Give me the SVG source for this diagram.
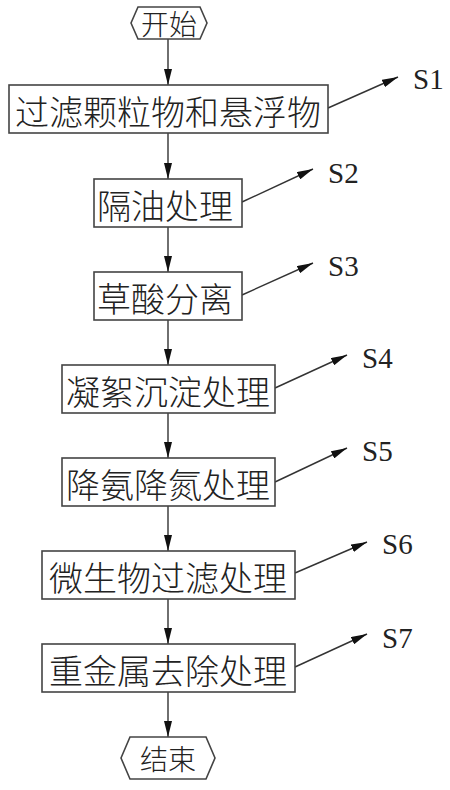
<svg xmlns="http://www.w3.org/2000/svg" width="450" height="790" viewBox="0 0 450 790">
<style>
.box{fill:#fff;stroke:#444;stroke-width:1.6}
.t{font-family:"Noto Sans CJK SC","Noto Sans CJK JP",sans-serif;font-size:34px;font-weight:300;fill:#222;text-anchor:middle;dominant-baseline:central}
.th{font-family:"Noto Sans CJK SC","Noto Sans CJK JP",sans-serif;font-size:28px;font-weight:300;fill:#222;text-anchor:middle;dominant-baseline:central}
.s{font-family:"Liberation Serif",serif;font-size:29px;fill:#222}
.c line{stroke:#333;stroke-width:1.4;marker-end:url(#ah)}
</style>
<defs>
<marker id="ah" markerUnits="userSpaceOnUse" markerWidth="17" markerHeight="8" refX="16" refY="4" orient="auto">
<path d="M0,0 L16,4 L0,8 Z" fill="#111"/>
</marker>
</defs>
<rect width="450" height="790" fill="#fff"/>
<g class="c" id="connectors">
<line x1="168" y1="39" x2="168" y2="85"/>
<line x1="168" y1="133" x2="168" y2="179"/>
<line x1="168" y1="227" x2="168" y2="272"/>
<line x1="168" y1="320" x2="168" y2="365"/>
<line x1="168" y1="413" x2="168" y2="458"/>
<line x1="168" y1="506" x2="168" y2="551"/>
<line x1="168" y1="599" x2="168" y2="644"/>
<line x1="168" y1="692" x2="168" y2="737"/>
<line x1="328" y1="108" x2="398" y2="77"/>
<line x1="242" y1="202" x2="313" y2="169"/>
<line x1="242" y1="295" x2="313" y2="263"/>
<line x1="275" y1="388" x2="347" y2="355"/>
<line x1="275" y1="482" x2="347" y2="448"/>
<line x1="295" y1="573" x2="367" y2="542"/>
<line x1="295" y1="667" x2="367" y2="634"/>
</g>
<g id="start">
<polygon class="box" points="131,23 138,7 200,7 207,23 200,39 138,39"/>
<text class="th" x="169" y="23">开始</text>
</g>
<g id="n1">
<rect class="box" x="9" y="85" width="319" height="48"/>
<text class="t" x="168" y="110">过滤颗粒物和悬浮物</text>
</g>
<g id="n2">
<rect class="box" x="94" y="179" width="148" height="48"/>
<text class="t" x="165" y="204">隔油处理</text>
</g>
<g id="n3">
<rect class="box" x="94" y="272" width="148" height="48"/>
<text class="t" x="165" y="297">草酸分离</text>
</g>
<g id="n4">
<rect class="box" x="62" y="365" width="213" height="48"/>
<text class="t" x="168" y="390">凝絮沉淀处理</text>
</g>
<g id="n5">
<rect class="box" x="62" y="458" width="213" height="48"/>
<text class="t" x="168" y="483">降氨降氮处理</text>
</g>
<g id="n6">
<rect class="box" x="42" y="551" width="253" height="48"/>
<text class="t" x="168" y="576">微生物过滤处理</text>
</g>
<g id="n7">
<rect class="box" x="42" y="644" width="253" height="48"/>
<text class="t" x="168" y="669">重金属去除处理</text>
</g>
<g id="end">
<polygon class="box" points="121,758 130,737 206,737 215,758 206,779 130,779"/>
<text class="th" x="168" y="758">结束</text>
</g>
<g id="labels">
<text class="s" x="413" y="89">S1</text>
<text class="s" x="328" y="183">S2</text>
<text class="s" x="328" y="276">S3</text>
<text class="s" x="362" y="368">S4</text>
<text class="s" x="362" y="461">S5</text>
<text class="s" x="382" y="554">S6</text>
<text class="s" x="382" y="648">S7</text>
</g>
</svg>
